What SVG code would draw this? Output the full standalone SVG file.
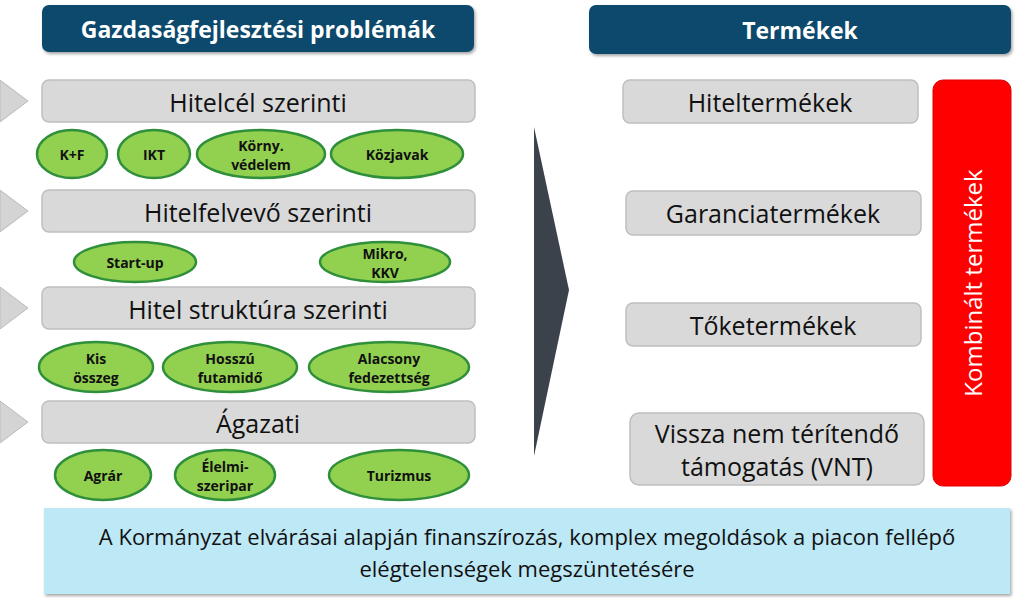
<svg xmlns="http://www.w3.org/2000/svg" width="1024" height="609" viewBox="0 0 1024 609">
<defs>
<filter id="sh" x="-5%" y="-5%" width="110%" height="130%"><feDropShadow dx="1.5" dy="2" stdDeviation="1.5" flood-opacity="0.35"/></filter>
</defs>
<style>
text{font-family:"Open Sans","Liberation Sans",sans-serif;text-anchor:middle;dominant-baseline:central}
.title rect{fill:#0c4a6c}
.title text{fill:#fff;font-weight:bold;font-size:23px}
.bar rect{fill:#d9d9d9;stroke:#bfbfbf;stroke-width:1.5}
.bar text{fill:#111;font-size:25px}
.tri{fill:#d4d4d4;stroke:#bbb}
.ell ellipse{fill:#92d050;stroke:#2f8f3a;stroke-width:2.5}
.ell text{fill:#111;font-weight:bold;font-size:14px}
</style>
<g id="title-left" class="title"><rect x="42" y="5" width="432" height="47" rx="7" filter="url(#sh)"/><text x="258" y="29">Gazdaságfejlesztési problémák</text></g>
<g id="title-right" class="title"><rect x="589" y="5" width="422" height="49" rx="7" filter="url(#sh)"/><text x="800" y="30">Termékek</text></g>
<g id="triangles">
<polygon class="tri" points="0,80 28,101 0,122"/>
<polygon class="tri" points="0,190 28,211 0,232"/>
<polygon class="tri" points="0,287 28,308 0,329"/>
<polygon class="tri" points="0,401 28,422 0,443"/>
</g>
<g id="bar1" class="bar"><rect x="42" y="80" width="433" height="42" rx="7"/><text x="258" y="102">Hitelcél szerinti</text></g>
<g id="bar2" class="bar"><rect x="42" y="190" width="433" height="42" rx="7"/><text x="258" y="212">Hitelfelvevő szerinti</text></g>
<g id="bar3" class="bar"><rect x="42" y="287" width="433" height="42" rx="7"/><text x="258" y="309">Hitel struktúra szerinti</text></g>
<g id="bar4" class="bar"><rect x="42" y="401" width="433" height="42" rx="7"/><text x="258" y="423">Ágazati</text></g>
<g id="e-kf" class="ell"><ellipse cx="72" cy="154" rx="35" ry="24"/><text x="72" y="154">K+F</text></g>
<g id="e-ikt" class="ell"><ellipse cx="154" cy="154" rx="36" ry="24"/><text x="154" y="154">IKT</text></g>
<g id="e-korny" class="ell"><ellipse cx="261" cy="154" rx="64" ry="24"/><text x="261" y="145">Körny.</text><text x="261" y="164">védelem</text></g>
<g id="e-kozjavak" class="ell"><ellipse cx="397" cy="154" rx="66" ry="24"/><text x="397" y="154">Közjavak</text></g>
<g id="e-startup" class="ell"><ellipse cx="135" cy="262" rx="61" ry="20"/><text x="135" y="262">Start-up</text></g>
<g id="e-mikro" class="ell"><ellipse cx="385" cy="262" rx="65" ry="20"/><text x="385" y="253">Mikro,</text><text x="385" y="272">KKV</text></g>
<g id="e-kis" class="ell"><ellipse cx="96" cy="367" rx="57" ry="25"/><text x="96" y="358">Kis</text><text x="96" y="377">összeg</text></g>
<g id="e-hosszu" class="ell"><ellipse cx="230" cy="367" rx="67" ry="25"/><text x="230" y="358">Hosszú</text><text x="230" y="377">futamidő</text></g>
<g id="e-alacsony" class="ell"><ellipse cx="389" cy="367" rx="80" ry="25"/><text x="389" y="358">Alacsony</text><text x="389" y="377">fedezettség</text></g>
<g id="e-agrar" class="ell"><ellipse cx="103" cy="475" rx="48" ry="25"/><text x="103" y="475">Agrár</text></g>
<g id="e-elelmi" class="ell"><ellipse cx="225" cy="475" rx="50" ry="25"/><text x="225" y="466">Élelmi-</text><text x="225" y="485">szeripar</text></g>
<g id="e-turizmus" class="ell"><ellipse cx="399" cy="475" rx="70" ry="25"/><text x="399" y="475">Turizmus</text></g>
<g id="connectors"><polygon points="534,127 569,290 534,456" fill="#3b424c"/></g>
<g id="p1" class="bar"><rect x="623" y="80" width="295" height="43" rx="7"/><text x="770" y="102">Hiteltermékek</text></g>
<g id="p2" class="bar"><rect x="626" y="191" width="295" height="44" rx="7"/><text x="773" y="213">Garanciatermékek</text></g>
<g id="p3" class="bar"><rect x="626" y="303" width="295" height="43" rx="7"/><text x="773" y="325">Tőketermékek</text></g>
<g id="p4" class="bar"><rect x="630" y="413" width="294" height="72" rx="9"/><text x="777" y="433">Vissza nem térítendő</text><text x="777" y="466">támogatás (VNT)</text></g>
<g id="kombinalt"><rect x="933" y="80" width="78" height="406" rx="10" fill="#ff0000" stroke="#e00000"/><text x="972" y="283" transform="rotate(-90 972 283)" fill="#fff" font-size="24px">Kombinált termékek</text></g>
<g id="bottom"><rect x="44" y="508" width="966" height="86" fill="#bde8f6" filter="url(#sh)"/><text x="527" y="536" font-size="22px" fill="#111">A Kormányzat elvárásai alapján finanszírozás, komplex megoldások a piacon fellépő</text><text x="527" y="568" font-size="22px" fill="#111">elégtelenségek megszüntetésére</text></g>
</svg>
